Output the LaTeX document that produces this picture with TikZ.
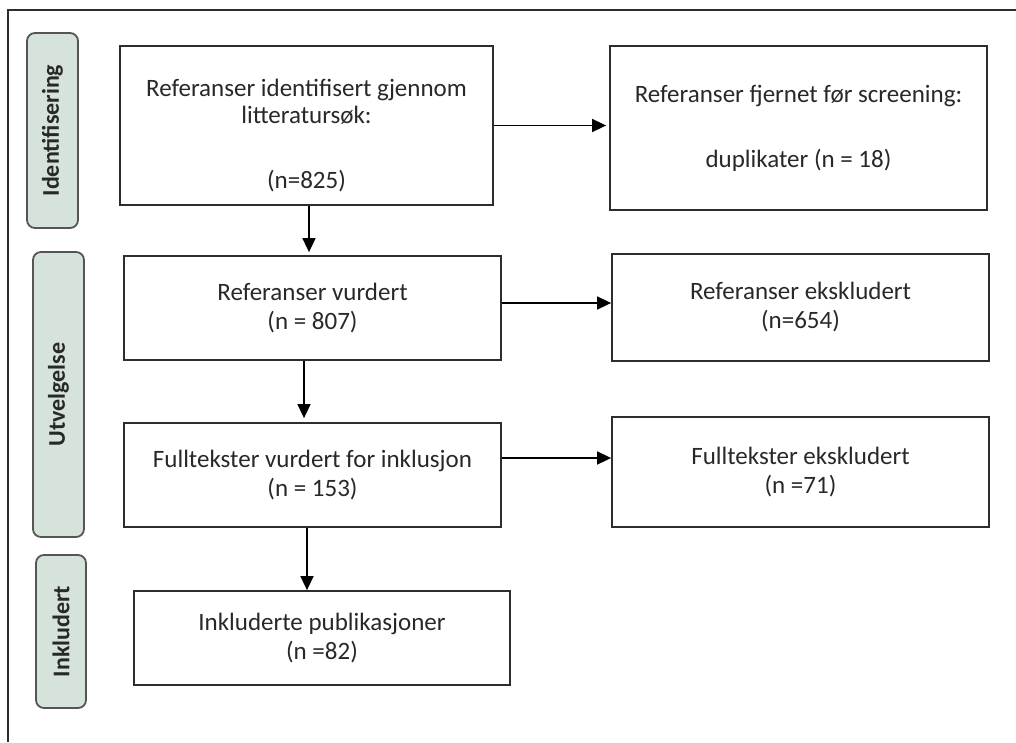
\documentclass[tikz,border=0pt]{standalone}
\usepackage{fontspec}
\setmainfont{Carlito}
\usetikzlibrary{arrows.meta}
\definecolor{PhaseFill}{RGB}{213,227,219}
\definecolor{PhaseLine}{RGB}{85,85,85}
\definecolor{BoxLine}{RGB}{45,45,45}
\definecolor{TextGray}{RGB}{40,40,40}

\begin{document}
\begin{tikzpicture}[
    x=1pt, y=-1pt,
    font=\fontsize{25}{29}\selectfont,
    flow/.style={-{Triangle[length=14pt, width=13pt]}, line width=1.6pt, black},
    box/.style={draw=BoxLine, line width=1.8pt, align=center, text=TextGray, inner sep=0pt},
    phase/.style={draw=PhaseLine, line width=1.8pt, rounded corners=8pt, fill=PhaseFill,
        text=TextGray, inner sep=0pt, font=\fontsize{24}{28}\selectfont\bfseries},
]
\useasboundingbox (0,0) rectangle (1016,742);

% ---- ramme ----
\draw[BoxLine, line width=1.6pt] (1016,10) -- (8,10) -- (8,742);

% ---- faser ----
\node[phase, minimum width=51pt, minimum height=195pt] (idf) at (52.5,130.5)
    {\rotatebox{90}{Identifisering}};
\node[phase, minimum width=51pt, minimum height=285pt] (utv) at (58.5,394.5)
    {\rotatebox{90}{Utvelgelse}};
\node[phase, minimum width=50pt, minimum height=153pt] (ink) at (61,631.5)
    {\rotatebox{90}{Inkludert}};

% ---- boksar ----
\node[box, minimum width=373pt, minimum height=159pt] (sok) at (306.5,125.5)
    {\rule{0pt}{38pt}Referanser identifisert gjennom\\[-2pt] litteratursøk:\\[36pt] (n=825)};
\node[box, minimum width=377pt, minimum height=164pt] (dup) at (798.5,128)
    {Referanser fjernet før screening:\\[36pt] duplikater (n = 18)};
\node[box, minimum width=377pt, minimum height=104pt] (vur) at (312.5,308)
    {Referanser vurdert\\ (n = 807)};
\node[box, minimum width=377pt, minimum height=107pt] (eks) at (800.5,307.5)
    {Referanser ekskludert\\ (n=654)};
\node[box, minimum width=377pt, minimum height=104pt] (full) at (312.5,475)
    {Fulltekster vurdert for inklusjon\\ (n = 153)};
\node[box, minimum width=377pt, minimum height=110pt] (feks) at (800.5,472)
    {Fulltekster ekskludert\\ (n =71)};
\node[box, minimum width=376pt, minimum height=94pt] (inkl) at (322,638)
    {Inkluderte publikasjoner\\ (n =82)};

% ---- piler ----
\draw[flow, shorten >=3pt] (sok.east) -- (sok.east -| dup.west);
\draw[flow] ([yshift=5pt]vur.east) -- ([yshift=5pt]vur.east -| eks.west);
\draw[flow] ([yshift=17pt]full.east) -- ([yshift=17pt]full.east -| feks.west);

\draw[flow, shorten >=3pt] ([xshift=2.5pt]sok.south) -- ([xshift=2.5pt]sok.south |- vur.north);
\draw[flow, shorten >=4pt] ([xshift=-8.5pt]vur.south) -- ([xshift=-8.5pt]vur.south |- full.north);
\draw[flow] ([xshift=-5.5pt]full.south) -- ([xshift=-5.5pt]full.south |- inkl.north);

\end{tikzpicture}
\end{document}
